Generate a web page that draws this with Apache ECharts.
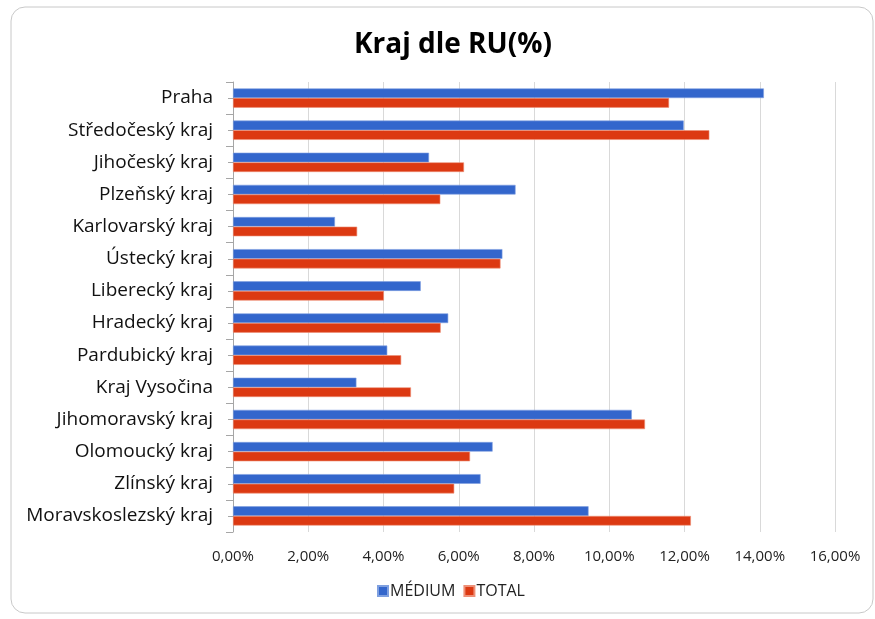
<!DOCTYPE html>
<html>
<head>
<meta charset="utf-8">
<script src="https://cdn.jsdelivr.net/npm/echarts@6/dist/echarts.min.js"></script>
<style>
  html, body { margin: 0; padding: 0; background: #fff; }
  #chart { width: 875px; height: 619px; }
</style>
</head>
<body>
<div id="chart"></div>
<script>
// kraje, shora dolu
const categories = [
  'Praha', 'Středočeský kraj', 'Jihočeský kraj', 'Plzeňský kraj', 'Karlovarský kraj',
  'Ústecký kraj', 'Liberecký kraj', 'Hradecký kraj', 'Pardubický kraj', 'Kraj Vysočina',
  'Jihomoravský kraj', 'Olomoucký kraj', 'Zlínský kraj', 'Moravskoslezský kraj'
]
// hodnoty v %
const medium = [14.11, 11.98, 5.21, 7.51, 2.71, 7.16, 4.99, 5.72, 4.10, 3.28, 10.60, 6.90, 6.58, 9.45]
const total = [11.59, 12.66, 6.14, 5.51, 3.30, 7.11, 4.01, 5.52, 4.47, 4.73, 10.95, 6.30, 5.88, 12.17]

const chart = echarts.init(document.getElementById('chart'))
const font = 'Open Sans, Liberation Sans, sans-serif'

chart.setOption({
  animation: false,
  textStyle: { fontFamily: font },
  title: {
    text: 'Kraj dle RU(%)',
    left: 349,
    top: 26,
    textStyle: { fontSize: 28, fontWeight: 'bold', color: '#000', fontFamily: font }
  },
  graphic: [{
    type: 'rect',
    shape: { x: 11, y: 7, width: 862, height: 606, r: 14 },
    style: { fill: 'none', stroke: '#c8c8c8', lineWidth: 1 },
    silent: true
  }],
  legend: {
    bottom: 15,
    left: 372,
    itemWidth: 10,
    itemHeight: 10,
    itemGap: 8,
    icon: 'rect',
    textStyle: { fontSize: 16, color: '#222', padding: [0, 0, 0, -3] },
    data: ['MÉDIUM', 'TOTAL']
  },
  grid: { left: 233, right: 40, top: 82, bottom: 87 },
  xAxis: {
    type: 'value',
    min: 0,
    max: 16,
    interval: 2,
    axisLine: { show: false },
    axisTick: { show: false },
    splitLine: { lineStyle: { color: '#d9d9d9' } },
    axisLabel: {
      margin: 17,
      fontSize: 15,
      color: '#222',
      formatter: v => v.toFixed(2).replace('.', ',') + '%'
    }
  },
  yAxis: [{
    type: 'category',
    inverse: true,
    data: categories,
    axisLine: { lineStyle: { color: '#a6a6a6' } },
    axisTick: { show: true, length: 7, lineStyle: { color: '#a6a6a6' } },
    axisLabel: { margin: 20, fontSize: 19, color: '#111' }
  }, {
    type: 'category',
    inverse: true,
    position: 'left',
    data: categories,
    axisLine: { show: false },
    axisTick: { show: true, alignWithLabel: true, length: 5, lineStyle: { color: '#a6a6a6' } },
    axisLabel: { show: false }
  }],
  series: [{
    name: 'MÉDIUM',
    type: 'bar',
    data: medium,
    barGap: '0%',
    barCategoryGap: '40%',
    itemStyle: { color: '#3366cc', borderColor: '#7fa0e0', borderWidth: 0.6 }
  }, {
    name: 'TOTAL',
    type: 'bar',
    data: total,
    itemStyle: { color: '#dc3912', borderColor: '#ee9077', borderWidth: 0.6 }
  }]
})
</script>
</body>
</html>
